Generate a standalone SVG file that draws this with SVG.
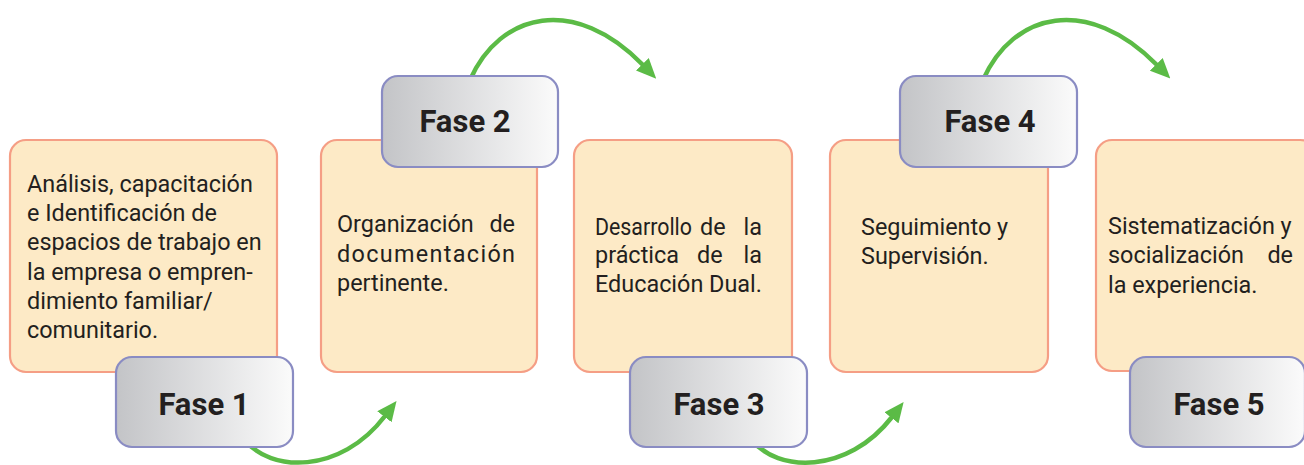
<svg xmlns="http://www.w3.org/2000/svg" width="1304" height="465" viewBox="0 0 1304 465">
<style>
.card{fill:#fdeac6;stroke:#f59e85;stroke-width:2.2}
.fase{fill:url(#fg);stroke:#8a8cc3;stroke-width:2.2}
.t{font-family:Roboto,"Liberation Sans",sans-serif;font-size:23.4px;fill:#231f20}
.ft{font-family:Roboto,"Liberation Sans",sans-serif;font-size:31px;font-weight:bold;fill:#231f20;text-anchor:middle}
.arrow{fill:none;stroke:#5bbb46;stroke-width:4.5;marker-end:url(#ah)}
.end{text-anchor:end}
</style>
<defs>
<linearGradient id="fg" x1="0" y1="0" x2="1" y2="0">
<stop offset="0" stop-color="#c3c4c7"/>
<stop offset="1" stop-color="#fbfbfb"/>
</linearGradient>
<marker id="ah" markerUnits="userSpaceOnUse" viewBox="0 0 20 18" refX="1" refY="9" markerWidth="20" markerHeight="18" orient="auto">
<path d="M0,0 L20,9 L0,18 z" fill="#5bbb46"/>
</marker>
</defs>
<g id="connectors">
<path class="arrow" d="M470 80 C500 12 575 -5 643 65"/>
<path class="arrow" d="M245 440 C270 472 340 475 385 416"/>
<path class="arrow" d="M983 80 C1013 12 1088 -5 1157 65"/>
<path class="arrow" d="M752 440 C777 472 847 475 892 417"/>
</g>
<g id="card1">
<rect class="card" x="10" y="140" width="267" height="232" rx="16"/>
<text class="t" x="27" y="192">Análisis, capacitación</text>
<text class="t" x="27" y="221">e Identificación de</text>
<text class="t" x="27" y="250">espacios de trabajo en</text>
<text class="t" x="27" y="280">la empresa o empren-</text>
<text class="t" x="27" y="309">dimiento familiar/</text>
<text class="t" x="27" y="338">comunitario.</text>
</g>
<g id="card2">
<rect class="card" x="321" y="140" width="216" height="232" rx="16"/>
<text class="t" x="337" y="232">Organización</text>
<text class="t end" x="515" y="232">de</text>
<text class="t" x="337" y="262" textLength="178" lengthAdjust="spacing">documentación</text>
<text class="t" x="337" y="291">pertinente.</text>
</g>
<g id="card3">
<rect class="card" x="574" y="140" width="218" height="232" rx="16"/>
<text class="t" x="595" y="235" textLength="97" lengthAdjust="spacingAndGlyphs">Desarrollo</text>
<text class="t" x="700" y="235">de</text>
<text class="t end" x="762" y="235">la</text>
<text class="t" x="595" y="263" textLength="84" lengthAdjust="spacingAndGlyphs">práctica</text>
<text class="t" x="697" y="263">de</text>
<text class="t end" x="762" y="263">la</text>
<text class="t" x="595" y="292">Educación Dual.</text>
</g>
<g id="card4">
<rect class="card" x="830" y="140" width="218" height="232" rx="16"/>
<text class="t" x="861" y="235">Seguimiento y</text>
<text class="t" x="861" y="264">Supervisión.</text>
</g>
<g id="card5">
<rect class="card" x="1096" y="140" width="220" height="231" rx="16"/>
<text class="t" x="1108" y="234">Sistematización y</text>
<text class="t" x="1108" y="263">socialización</text>
<text class="t end" x="1293" y="263">de</text>
<text class="t" x="1108" y="293">la experiencia.</text>
</g>
<g id="fase1">
<rect class="fase" x="116" y="357" width="177" height="90" rx="16"/>
<text class="ft" x="204" y="415">Fase 1</text>
</g>
<g id="fase2">
<rect class="fase" x="382" y="76" width="176" height="91" rx="16"/>
<text class="ft" x="465" y="132">Fase 2</text>
</g>
<g id="fase3">
<rect class="fase" x="630" y="357" width="177" height="90" rx="16"/>
<text class="ft" x="719" y="415">Fase 3</text>
</g>
<g id="fase4">
<rect class="fase" x="900" y="76" width="177" height="91" rx="16"/>
<text class="ft" x="990" y="132">Fase 4</text>
</g>
<g id="fase5">
<rect class="fase" x="1130" y="357" width="175" height="90" rx="16"/>
<text class="ft" x="1219" y="415">Fase 5</text>
</g>
</svg>
